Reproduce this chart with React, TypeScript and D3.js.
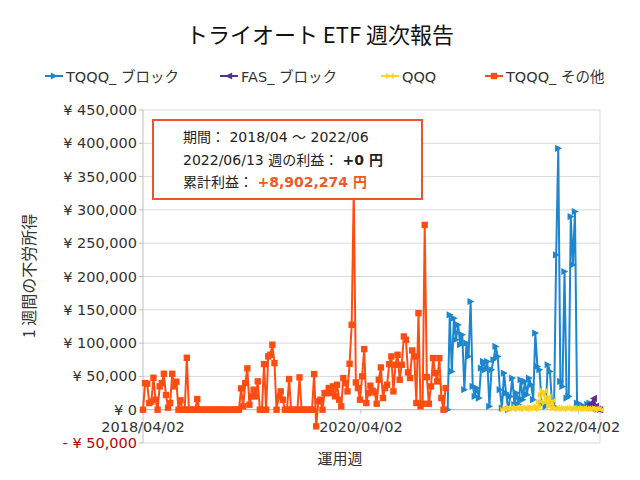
import React from 'react';
import * as d3 from 'd3';

// ---------- data ----------
const START_DATE = '2018-04-02';
const END_DATE = '2022-06-13';
const xTickLabels = ['2018/04/02', '2020/04/02', '2022/04/02'];
const yTickValues = [-50000, 0, 50000, 100000, 150000, 200000, 250000, 300000, 350000, 400000, 450000];

const seriesNames = ['TQQQ_ ブロック', 'FAS_ ブロック', 'QQQ', 'TQQQ_ その他'];

const tqqqOtherStartWeek = 0;
const tqqqOtherValues = [
  0, 40000, 39000, 10000, 12000, 48000, 15000, 0, 35000, 40000,
  54000, 22000, 3000, 10000, 54000, 35000, 42000, 0, 14000, 0,
  0, 78000, 0, 0, 0, 0, 16000, 0, 0, 0,
  0, 0, 0, 0, 0, 0, 0, 0, 0, 0,
  0, 0, 0, 0, 0, 0, 0, 32000, 5000, 40000,
  62000, 7500, 20000, 30000, 20000, 42500, 0, 0, 68500, 0,
  80000, 82500, 97500, 70000, 0, 20000, 27500, 15000, 0, 0,
  46000, 0, 0, 0, 0, 48500, 0, 0, 0, 0,
  0, 0, 53500, -25000, 12500, 15000, 0, 25000, 25000, 32500,
  25000, 35000, 20000, 37500, 15000, 5000, 47500, 40000, 27500, 69000,
  127500, 330000, 41000, 32500, 15000, 50000, 91000, 10000, 25000, 36000,
  28500, 26000, 9000, 45000, 63500, 17500, 32500, 37500, 68500, 80000,
  27500, 67500, 82500, 45000, 67500, 110000, 105000, 56000, 47500, 89000,
  80000, 10000, 145000, 5000, 9000, 277500, 49000, 9000, 35000, 77500,
  55000, 42500, 77500, 17500, 0, 32500,
];

const tqqqBlockStartWeek = 146;
const tqqqBlockValues = [
  0, 142500, 57500, 137500, 105000, 127500, 97500, 112500, 30000, 100000,
  80000, 162500, 35000, 20000, 32500, 17500, 62500, 72500, 60000, 72500,
  5000, 60000, 75000, 95000, 80000, 30000, 2500, 55000, 25000, 0,
  20000, 47500, 7500, 25000, 7500, 45000, 15000, 42500, 22500, 47500,
  37500, 15000, 115000, 65000, 60000, 10000, 10000, 5000, 67500, 57500,
  10000, 5000, 232500, 392500, 42500, 35000, 207500, 17500, 20000, 290000,
  217500, 297500, 10000, 7500, 7500, 5000, 3000, 8000, 10000, 6000,
  4000, 2000, 1000, 0,
];

const qqqStartWeek = 173;
const qqqValues = [
  0, 2000, 1000, 3000, 1000, 2000, 4000, 1000, 3000, 2000,
  1000, 3000, 2000, 4000, 1000, 2000, 5000, 12000, 22000, 28000,
  10000, 20000, 4000, 14000, 2000, 3000, 1000, 2000, 1000, 3000,
  2000, 1000, 2000, 3000, 1000, 2000, 1000, 2000, 3000, 1000,
  2000, 1000, 2000, 1000, 2000, 1000, 0,
];

const fasStartWeek = 212;
const fasValues = [3000, 6000, 4000, 10000, 17000, 5000, 1000, 0];

const periodText = '期間： 2018/04 ～ 2022/06';
const weekLabel = '2022/06/13 週の利益：';
const weekProfit = '+0 円';
const totalLabel = '累計利益：';
const totalProfit = '+8,902,274 円';

// ---------- helpers ----------
const parseIso = d3.timeParse('%Y-%m-%d');
const parseSlash = d3.timeParse('%Y/%m/%d');
const startDate = parseIso(START_DATE) as Date;
const endDate = parseIso(END_DATE) as Date;

type Pt = { date: Date; value: number };
const toPoints = (start: number, values: number[]): Pt[] =>
  values.map((v, i) => ({ date: d3.timeWeek.offset(startDate, start + i), value: v }));

const COLORS = ['#1C86CE', '#5B2D8E', '#FFD21F', '#FF4D12'];
const MARKERS: Record<string, string> = {
  triR: 'M-3.2,-3.6L3.8,0L-3.2,3.6Z',
  triL: 'M3.2,-3.6L-3.8,0L3.2,3.6Z',
  bow: 'M-3.8,-3.2L0,0L-3.8,3.2Z M3.8,-3.2L0,0L3.8,3.2Z',
  sq: 'M-3.2,-3.2H3.2V3.2H-3.2Z',
};
const markerKinds = ['triR', 'triL', 'bow', 'sq'];

const FONT = '"DejaVu Sans", "Noto Sans CJK JP", sans-serif';
const JFONT = '"Noto Sans CJK JP", "DejaVu Sans", sans-serif';

const fmtY = (v: number) => {
  if (v < 0) return '- ¥ ' + d3.format(',')(-v);
  if (v === 0) return '¥ 0';
  return '¥ ' + d3.format(',')(v);
};

export default function App() {
  const W = 640, H = 480;
  const x = d3.scaleTime().domain([startDate, endDate]).range([143, 600]);
  const y = d3.scaleLinear().domain([-50000, 450000]).range([443, 110]);

  const series = [
    toPoints(tqqqBlockStartWeek, tqqqBlockValues),
    toPoints(fasStartWeek, fasValues),
    toPoints(qqqStartWeek, qqqValues),
    toPoints(tqqqOtherStartWeek, tqqqOtherValues),
  ];

  const line = d3.line<Pt>().x(d => x(d.date)).y(d => y(d.value));

  const legendX = [45, 220, 381, 485];

  return (
    <svg width={W} height={H} style={{ position: 'absolute', left: 0, top: 0, background: '#fff' }}>
      <rect width={W} height={H} fill="#fff" />
      {/* title */}
      <text x={320} y={43} textAnchor="middle" fontSize={22} fontFamily={JFONT} fill="#111">
        トライオート ETF 週次報告
      </text>

      {/* legend */}
      {seriesNames.map((name, i) => (
        <g key={name} transform={`translate(${legendX[i]},76)`}>
          <line x1={0} x2={18} y1={0} y2={0} stroke={COLORS[i]} strokeWidth={2} />
          <path d={MARKERS[markerKinds[i]]} transform="translate(9,0)" fill={COLORS[i]} />
          <text x={21} y={5.5} fontSize={14.5} fontFamily={FONT} fill="#333">{name}</text>
        </g>
      ))}

      {/* gridlines */}
      {yTickValues.map(v => (
        <line key={v} x1={143} x2={600} y1={y(v)} y2={y(v)} stroke="#D9D9D9" strokeWidth={1} />
      ))}
      <line x1={600} x2={600} y1={y(450000)} y2={y(-50000)} stroke="#D9D9D9" strokeWidth={1} />

      {/* y axis */}
      <line x1={143} x2={143} y1={y(450000)} y2={y(-50000)} stroke="#BFBFBF" strokeWidth={1} />
      {yTickValues.map(v => (
        <g key={'t' + v}>
          <line x1={139} x2={143} y1={y(v)} y2={y(v)} stroke="#BFBFBF" />
          <text x={137} y={y(v) + 5} textAnchor="end" fontSize={14.5} fontFamily={FONT}
            fill={v < 0 ? '#C00000' : '#333'}>{fmtY(v)}</text>
        </g>
      ))}

      {/* x axis */}
      <line x1={143} x2={600} y1={y(0)} y2={y(0)} stroke="#BFBFBF" strokeWidth={1} />
      {xTickLabels.map(lbl => {
        const d = parseSlash(lbl) as Date;
        const xx = x(d);
        return (
          <g key={lbl}>
            <line x1={xx} x2={xx} y1={y(0)} y2={y(0) + 4} stroke="#BFBFBF" />
            <text x={xx} y={y(0) + 22} textAnchor="middle" fontSize={14.5} fontFamily={FONT} fill="#333">{lbl}</text>
          </g>
        );
      })}

      {/* axis titles */}
      <text x={340} y={464} textAnchor="middle" fontSize={15} fontFamily={JFONT} fill="#333">運用週</text>
      <text transform={`translate(35,${276}) rotate(-90)`} textAnchor="middle" fontSize={16} fontFamily={JFONT} fill="#333">
        1 週間の不労所得
      </text>

      {/* series */}
      {series.map((pts, i) => (
        <g key={'s' + i}>
          <path d={line(pts) || ''} fill="none" stroke={COLORS[i]} strokeWidth={2} strokeLinejoin="round" />
          {pts.map((p, j) => (
            <path key={j} d={MARKERS[markerKinds[i]]} transform={`translate(${x(p.date)},${y(p.value)})`} fill={COLORS[i]} />
          ))}
        </g>
      ))}

      {/* annotation box */}
      <rect x={153} y={120} width={269} height={79} fill="#fff" stroke="#E9552B" strokeWidth={2} />
      <text x={183} y={142} fontSize={14} fontFamily={FONT} fill="#222">{periodText}</text>
      <text x={183} y={165} fontSize={14} fontFamily={FONT} fill="#222">
        {weekLabel} <tspan fontWeight="bold">{weekProfit}</tspan>
      </text>
      <text x={183} y={187} fontSize={14} fontFamily={FONT} fill="#222">
        {totalLabel} <tspan fontWeight="bold" fill="#EE5A24">{totalProfit}</tspan>
      </text>
    </svg>
  );
}
